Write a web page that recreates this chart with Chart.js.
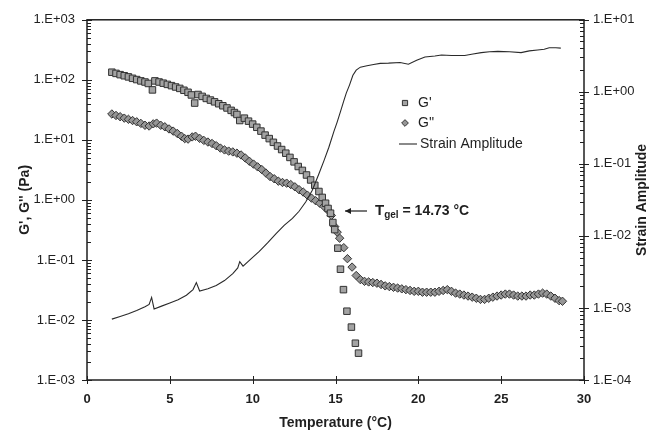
<!DOCTYPE html>
<html>
<head>
<meta charset="utf-8">
<script src="https://cdn.jsdelivr.net/npm/chart.js@4.4.0/dist/chart.umd.min.js"></script>
<style>
  html, body { margin: 0; padding: 0; background: #fff; }
</style>
</head>
<body>
<canvas id="gelChart" width="650" height="437"></canvas>
<script>
// --- Data ---
const gpTemp = [1.5, 1.75, 2.0, 2.25, 2.5, 2.75, 3.0, 3.25, 3.5, 3.7, 3.95,
  4.1, 4.35, 4.6, 4.85, 5.1, 5.35, 5.6, 5.85, 6.1, 6.3, 6.5,
  6.7, 6.95, 7.2, 7.45, 7.7, 7.95, 8.2, 8.45, 8.7, 8.9, 9.05, 9.22,
  9.5, 9.75, 10.0, 10.25, 10.5, 10.75, 11.0, 11.25, 11.5, 11.75, 12.0, 12.25, 12.5, 12.75,
  13.0, 13.25, 13.5, 13.75, 14.0, 14.2, 14.4, 14.55, 14.7, 14.84, 14.95, 15.14, 15.3,
  15.48, 15.69, 15.96, 16.2, 16.39];
const gpVal = [134, 128, 122, 117, 112, 106, 101, 96, 92, 87, 68,
  96, 92, 88, 84, 80, 76, 72, 67, 62, 56, 41,
  57, 53, 49, 46, 43, 40, 37, 34, 31, 28.5, 26.5, 21,
  23, 20.5, 18.3, 16.2, 14, 12, 10.5, 9.1, 7.9, 6.9, 6.0, 5.1, 4.3, 3.6,
  3.1, 2.6, 2.15, 1.75, 1.38, 1.1, 0.88, 0.72, 0.6, 0.42, 0.32, 0.157, 0.070,
  0.032, 0.014, 0.0076, 0.0041, 0.0028];

const gppTemp = [1.5, 1.75, 2.0, 2.25, 2.5, 2.75, 3.0, 3.25, 3.5, 3.75, 4.0, 4.2, 4.45, 4.7, 4.95,
  5.2, 5.45, 5.7, 5.9, 6.1, 6.35, 6.55, 6.8, 7.05, 7.3, 7.55, 7.8, 8.05, 8.3, 8.55, 8.8,
  9.05, 9.3, 9.55, 9.8, 10.05, 10.3, 10.55, 10.8, 11.05, 11.3, 11.55, 11.8, 12.05, 12.3,
  12.55, 12.8, 13.05, 13.3, 13.55, 13.8, 14.05, 14.3, 14.55, 14.75, 14.95, 15.1, 15.25,
  15.5, 15.72, 16.0, 16.25, 16.5, 16.75, 17.0, 17.25, 17.5, 17.75, 18.0, 18.25, 18.5,
  18.75, 19.0, 19.25, 19.5, 19.75, 20.0, 20.25, 20.5, 20.75, 21.0, 21.25, 21.5, 21.75,
  22.0, 22.25, 22.5, 22.75, 23.0, 23.25, 23.5, 23.75, 24.0, 24.25, 24.5, 24.75, 25.0,
  25.25, 25.5, 25.75, 26.0, 26.25, 26.5, 26.75, 27.0, 27.25, 27.5, 27.75, 28.0, 28.25,
  28.5, 28.7];
const gppVal = [27, 25.5, 24.3, 23, 22, 21, 20, 18.8, 17.5, 17, 18.5, 19, 17.5, 16.5, 15.2,
  14, 12.8, 11.5, 10.5, 10.3, 11.2, 11.5, 10.6, 9.8, 9.2, 8.7, 8.0, 7.3, 6.8, 6.5, 6.3,
  6.0, 5.6, 5.0, 4.4, 3.95, 3.55, 3.2, 2.8, 2.45, 2.25, 2.05, 1.95, 1.9, 1.8,
  1.65, 1.48, 1.35, 1.2, 1.07, 0.97, 0.88, 0.78, 0.67, 0.55, 0.36, 0.29, 0.23,
  0.16, 0.105, 0.076, 0.055, 0.047, 0.044, 0.043, 0.042, 0.041, 0.039, 0.037, 0.036, 0.035,
  0.034, 0.033, 0.032, 0.031, 0.030, 0.030, 0.029, 0.029, 0.029, 0.029, 0.030, 0.031, 0.032,
  0.030, 0.028, 0.027, 0.026, 0.025, 0.024, 0.023, 0.022, 0.022, 0.023, 0.024, 0.025, 0.026,
  0.027, 0.027, 0.026, 0.025, 0.025, 0.025, 0.026, 0.026, 0.027, 0.028, 0.027, 0.025, 0.023,
  0.021, 0.0205];

const strainTemp = [1.5, 2.0, 2.5, 3.0, 3.5, 3.75, 3.9, 4.05, 4.5, 5.0, 5.5, 6.0, 6.4, 6.6, 6.8,
  7.3, 7.8, 8.3, 8.8, 9.1, 9.22, 9.42, 9.9, 10.4, 10.9, 11.4, 11.9, 12.4, 12.8, 13.2,
  13.6, 14.0, 14.3, 14.6, 14.9, 15.1, 15.3, 15.5, 15.65, 15.85, 16.05, 16.25, 16.5, 16.9, 17.3,
  17.7, 18.2, 18.9, 19.4, 19.9, 20.4, 21.0, 21.4, 22.0, 22.8, 23.3, 23.8, 24.3, 24.8, 25.5,
  26.2, 26.7, 27.2, 27.6, 27.9, 28.3, 28.6];
const strainVal = [7.0e-4, 7.6e-4, 8.3e-4, 9.2e-4, 1.04e-3, 1.12e-3, 1.4e-3, 9.7e-4, 1.06e-3, 1.17e-3,
  1.3e-3, 1.5e-3, 1.8e-3, 2.25e-3, 1.72e-3, 1.85e-3, 2.05e-3, 2.4e-3, 3.0e-3, 3.6e-3,
  4.4e-3, 3.8e-3, 4.8e-3, 6.1e-3, 8.0e-3, 1.07e-2, 1.4e-2, 1.75e-2, 2.2e-2, 2.95e-2,
  4.3e-2, 7.3e-2, 0.11, 0.17, 0.28, 0.38, 0.53, 0.75, 0.96, 1.25,
  1.7, 2.0, 2.2, 2.3, 2.4, 2.48, 2.5, 2.55, 2.42, 2.75,
  3.05, 3.15, 3.25, 3.2, 3.2, 3.35, 3.5, 3.6, 3.65, 3.6,
  3.5, 3.7, 3.8, 3.9, 4.1, 4.1, 4.05];

const xTicks = [0, 5, 10, 15, 20, 25, 30];
const leftTicks = [1e-3, 1e-2, 1e-1, 1e0, 1e1, 1e2, 1e3];
const rightTicks = [1e-4, 1e-3, 1e-2, 1e-1, 1e0, 1e1];
const seriesNames = ["G'", "G''", 'Strain Amplitude'];
const gelLabel = { sub: 'gel', text: ' = 14.73 °C', temp: 14.73 };

const FONT = "'Liberation Sans', Arial, sans-serif";
const INK = '#1f1f1f';

function expLabel(v) {
    const e = Math.round(Math.log10(v));
    const s = e < 0 ? '-' : '+';
    return '1.E' + s + String(Math.abs(e)).padStart(2, '0');
}

function toPoints(xs, ys) {
    return xs.map((x, i) => ({ x: x, y: ys[i] }));
}

// --- Frame, ticks, titles, legend and annotation ---
const framePlugin = {
    id: 'frame',
    afterDatasetsDraw(chart) {
        const ctx = chart.ctx;
        const a = chart.chartArea;
        const sx = chart.scales.x, sy = chart.scales.y, sy2 = chart.scales.y2;
        ctx.save();
        ctx.strokeStyle = INK;
        ctx.lineWidth = 1.5;
        ctx.strokeRect(a.left, a.top, a.right - a.left, a.bottom - a.top);

        ctx.lineWidth = 1;
        ctx.beginPath();
        // bottom ticks
        xTicks.forEach(t => {
            const px = Math.round(sx.getPixelForValue(t)) + 0.5;
            ctx.moveTo(px, a.bottom - 4); ctx.lineTo(px, a.bottom + 4);
        });
        // log ticks, left and right
        const logTicks = (scale, majors, x, dir) => {
            majors.forEach((m, i) => {
                const py = Math.round(scale.getPixelForValue(m)) + 0.5;
                ctx.moveTo(x - 5, py); ctx.lineTo(x + 5, py);
                if (i < majors.length - 1) {
                    for (let k = 2; k <= 9; k++) {
                        const my = Math.round(scale.getPixelForValue(m * k)) + 0.5;
                        ctx.moveTo(x, my); ctx.lineTo(x + dir * 4, my);
                    }
                }
            });
        };
        logTicks(sy, leftTicks, a.left, 1);
        logTicks(sy2, rightTicks, a.right, -1);
        ctx.stroke();

        // axis titles
        ctx.fillStyle = INK;
        ctx.font = 'bold 14px ' + FONT;
        ctx.textAlign = 'center';
        ctx.textBaseline = 'middle';
        ctx.fillText('Temperature (°C)', (a.left + a.right) / 2, 423);
        ctx.save();
        ctx.translate(25, (a.top + a.bottom) / 2);
        ctx.rotate(-Math.PI / 2);
        ctx.fillText("G', G'' (Pa)", 0, 0);
        ctx.restore();
        ctx.save();
        ctx.translate(642, (a.top + a.bottom) / 2);
        ctx.rotate(-Math.PI / 2);
        ctx.fillText('Strain Amplitude', 0, 0);
        ctx.restore();

        // legend
        const ds = chart.data.datasets;
        const lx = 405, ly = [103, 123, 144];
        ctx.font = '14px ' + FONT;
        ctx.textAlign = 'left';
        for (let i = 0; i < 2; i++) {
            ctx.fillStyle = ds[i].backgroundColor;
            ctx.strokeStyle = ds[i].borderColor;
            ctx.lineWidth = 1;
            Chart.helpers.drawPoint(ctx, {
                pointStyle: ds[i].pointStyle, radius: ds[i].pointRadius * 0.8,
                rotation: 0, borderWidth: 1
            }, lx, ly[i]);
            ctx.fillStyle = INK;
            ctx.fillText(seriesNames[i], 418, ly[i]);
        }
        ctx.strokeStyle = ds[2].borderColor;
        ctx.lineWidth = ds[2].borderWidth;
        ctx.beginPath();
        ctx.moveTo(399, ly[2]); ctx.lineTo(417, ly[2]);
        ctx.stroke();
        ctx.fillStyle = INK;
        ctx.fillText(seriesNames[2], 420, ly[2]);

        // T_gel annotation with arrow
        const ay = 211;
        const ax = sx.getPixelForValue(gelLabel.temp) + 14;
        ctx.strokeStyle = INK;
        ctx.lineWidth = 1.2;
        ctx.beginPath();
        ctx.moveTo(ax, ay); ctx.lineTo(ax + 22, ay);
        ctx.stroke();
        ctx.beginPath();
        ctx.moveTo(ax, ay); ctx.lineTo(ax + 6, ay - 3); ctx.lineTo(ax + 6, ay + 3);
        ctx.closePath();
        ctx.fillStyle = INK;
        ctx.fill();
        let tx = ax + 30;
        ctx.font = 'bold 15px ' + FONT;
        ctx.fillText('T', tx, ay);
        tx += ctx.measureText('T').width;
        ctx.font = 'bold 10px ' + FONT;
        ctx.fillText(gelLabel.sub, tx, ay + 4);
        tx += ctx.measureText(gelLabel.sub).width;
        ctx.font = 'bold 14px ' + FONT;
        ctx.fillText(gelLabel.text, tx, ay);
        ctx.restore();
    }
};

const ctx = document.getElementById('gelChart').getContext('2d');
new Chart(ctx, {
    type: 'scatter',
    data: {
        datasets: [{
            label: seriesNames[0],
            data: toPoints(gpTemp, gpVal),
            yAxisID: 'y',
            pointStyle: 'rect',
            pointRadius: 4.6,
            backgroundColor: '#a3a3a3',
            borderColor: '#333333',
            borderWidth: 1,
            order: 1
        }, {
            label: seriesNames[1],
            data: toPoints(gppTemp, gppVal),
            yAxisID: 'y',
            pointStyle: 'rectRot',
            pointRadius: 4.2,
            backgroundColor: '#969696',
            borderColor: '#333333',
            borderWidth: 1,
            order: 2
        }, {
            label: seriesNames[2],
            data: toPoints(strainTemp, strainVal),
            yAxisID: 'y2',
            showLine: true,
            pointRadius: 0,
            borderColor: '#2a2a2a',
            borderWidth: 1.1,
            tension: 0,
            order: 0
        }]
    },
    options: {
        responsive: false,
        animation: false,
        devicePixelRatio: 1,
        layout: { padding: { top: 16, left: 0, right: 0, bottom: 0 } },
        plugins: { legend: { display: false }, tooltip: { enabled: false } },
        scales: {
            x: {
                type: 'linear', position: 'bottom', min: 0, max: 30,
                afterBuildTicks: s => { s.ticks = xTicks.map(v => ({ value: v })); },
                afterFit: s => { s.height = 57; },
                grid: { display: false, drawTicks: false },
                border: { display: false },
                ticks: { color: INK, padding: 12, font: { family: FONT, size: 13, weight: 'bold' } }
            },
            y: {
                type: 'logarithmic', position: 'left', min: 1e-3, max: 1e3,
                afterBuildTicks: s => { s.ticks = leftTicks.map(v => ({ value: v })); },
                afterFit: s => { s.width = 87; },
                grid: { display: false, drawTicks: false },
                border: { display: false },
                ticks: { color: INK, padding: 12, font: { family: FONT, size: 13 }, callback: v => expLabel(v) }
            },
            y2: {
                type: 'logarithmic', position: 'right', min: 1e-4, max: 1e1,
                afterBuildTicks: s => { s.ticks = rightTicks.map(v => ({ value: v })); },
                afterFit: s => { s.width = 66; },
                grid: { display: false, drawTicks: false },
                border: { display: false },
                ticks: { color: INK, padding: 9, font: { family: FONT, size: 13 }, callback: v => expLabel(v) }
            }
        }
    },
    plugins: [framePlugin]
});
</script>
</body>
</html>
